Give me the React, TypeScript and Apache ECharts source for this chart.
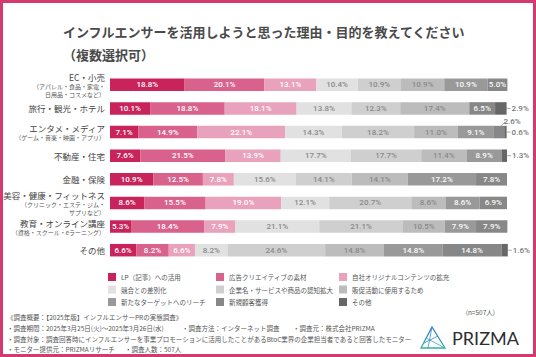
import React, { useEffect, useRef } from 'react';
import * as echarts from 'echarts';

const categories = ['EC・小売', '旅行・観光・ホテル', 'エンタメ・メディア', '不動産・住宅', '金融・保険', '美容・健康・フィットネス', '教育・オンライン講座', 'その他'];
const categorySubs: string[][] = [
  ['（アパレル・食品・家電・', '日用品・コスメなど）'],
  [],
  ['（ゲーム・音楽・映画・アプリ）'],
  [],
  [],
  ['（クリニック・エステ・ジム・', 'サプリなど）'],
  ['（資格・スクール・eラーニング）'],
  [],
];
const seriesNames = ['LP（記事）への活用', '広告クリエイティブの素材', '自社オリジナルコンテンツの拡充', '競合との差別化', '企業名・サービスや商品の認知拡大', '販促活動に使用するため', '新たなターゲットへのリーチ', '新規顧客獲得', 'その他'];
const lpUse = [18.8, 10.1, 7.1, 7.6, 10.9, 8.6, 5.3, 6.6];
const adCreative = [20.1, 18.8, 14.9, 21.5, 12.5, 15.5, 18.4, 8.2];
const ownContent = [13.1, 18.1, 22.1, 13.9, 7.8, 19.0, 7.9, 6.6];
const differentiation = [10.4, 13.8, 14.3, 17.7, 15.6, 12.1, 21.1, 8.2];
const awareness = [10.9, 12.3, 18.2, 17.7, 14.1, 20.7, 21.1, 24.6];
const promotion = [10.9, 17.4, 11.0, 11.4, 14.1, 8.6, 10.5, 14.8];
const newTarget = [10.9, 0, 9.1, 8.9, 17.2, 8.6, 7.9, 14.8];
const newCustomer = [5.0, 6.5, 2.6, 0, 7.8, 6.9, 7.9, 14.8];
const others = [0, 2.9, 0.6, 1.3, 0, 0, 0, 1.6];
const seriesValues = [lpUse, adCreative, ownContent, differentiation, awareness, promotion, newTarget, newCustomer, others];

const titleLines = ['インフルエンサーを活用しようと思った理由・目的を教えてください', '（複数選択可）'];
const footerNote = '(n=507人)';
const footerLines = [
  { text: '《調査概要：【2025年版】インフルエンサーPRの実態調査》', col: 0, row: 0 },
  { text: '・調査期間：2025年3月25日(火)〜2025年3月26日(水)', col: 0, row: 1 },
  { text: '・調査方法：インターネット調査', col: 1, row: 1 },
  { text: '・調査元：株式会社PRIZMA', col: 2, row: 1 },
  { text: '・調査対象：調査回答時にインフルエンサーを事業プロモーションに活用したことがあるBtoC業界の企業担当者であると回答したモニター', col: 0, row: 2 },
  { text: '・モニター提供元：PRIZMAリサーチ', col: 0, row: 3 },
  { text: '・調査人数：507人', col: 3, row: 3 },
];

const COLORS = ['#c8235a', '#d9628c', '#e9a2bb', '#e1e1e1', '#cfcfcf', '#bcbcbc', '#999999', '#878787', '#676767'];
const LABEL_COLORS = ['#fff', '#fff', '#fff', '#8a8a8a', '#8a8a8a', '#8a8a8a', '#fafafa', '#fafafa', '#fafafa'];
const CJK = "'Noto Sans CJK JP', 'Noto Sans', sans-serif";
const NUMF = "'Liberation Sans Narrow', Roboto, sans-serif";
const colX = [7, 182, 293, 125];
const rowY = [317, 327.5, 338.5, 349];

export default function App() {
  const ref = useRef<HTMLDivElement>(null);
  useEffect(() => {
    const chart = echarts.init(ref.current!, null, { renderer: 'svg' });
    const gridLeft = 105;
    const gridRight = 29;

    const series = seriesNames.map((name, si) => ({
      name,
      type: 'bar',
      stack: 'total',
      barWidth: 12.5,
      clip: false,
      itemStyle: { color: COLORS[si] },
      emphasis: { disabled: true },
      label: {
        show: true,
        position: 'inside',
        fontFamily: NUMF,
        fontSize: 8,
        fontWeight: 500,
        color: LABEL_COLORS[si],
        formatter: (p: any) => (p.value > 0 ? Number(p.value).toFixed(1) + '%' : ''),
      },
      data: seriesValues[si].map((v) => {
        if (v > 0 && v < 2) {
          return { value: v, label: { position: 'right', distance: 5, color: '#777' } };
        }
        if (v > 0 && v < 3) {
          if (si === seriesNames.length - 1) {
            return { value: v, label: { position: 'right', distance: 5, color: '#777' } };
          }
          return { value: v, label: { position: 'top', distance: 0, offset: [13, 0], color: '#777' } };
        }
        return v;
      }),
    }));

    const graphics: any[] = [
      {
        id: 'frame', type: 'rect', silent: true,
        shape: { x: 1.5, y: 1.5, width: 533, height: 354 },
        style: { fill: 'none', stroke: '#d43a6f', lineWidth: 3 },
      },
      ...footerLines.map((f, i) => ({
        id: 'foot' + i, type: 'text', x: colX[f.col], y: rowY[f.row],
        style: { text: f.text, fontSize: 6.5, fontFamily: CJK, fill: '#555', textVerticalAlign: 'middle' },
      })),
      {
        id: 'nnote', type: 'text', x: 495, y: 312,
        style: { text: footerNote, fontSize: 6.5, fontFamily: CJK, fill: '#555', textAlign: 'right', textVerticalAlign: 'middle' },
      },
      {
        id: 'logoTri', type: 'polygon',
        shape: { points: [[432, 327], [445, 348], [421, 348]] },
        style: {
          fill: 'none', lineWidth: 1.3,
          stroke: new echarts.graphic.LinearGradient(0, 0, 0, 1, [
            { offset: 0, color: '#2f6fd6' }, { offset: 1, color: '#33b59a' },
          ]),
        },
      },
      {
        id: 'logoRay1', type: 'polyline',
        shape: { points: [[432, 327], [428, 348]] },
        style: { stroke: '#3a8fc8', lineWidth: 0.8 },
      },
      {
        id: 'logoRay2', type: 'polyline',
        shape: { points: [[426, 338], [445, 348]] },
        style: { stroke: '#35a7b0', lineWidth: 0.8 },
      },
      {
        id: 'logoRay3', type: 'polyline',
        shape: { points: [[424, 343], [438, 336]] },
        style: { stroke: '#2f80d0', lineWidth: 0.8 },
      },
      {
        id: 'logoText', type: 'text', x: 452, y: 338,
        style: { text: 'PRIZMA', fontSize: 18, fontFamily: 'Lato, Roboto, sans-serif', fontWeight: 'normal', fill: '#2e2e2e', textVerticalAlign: 'middle' },
      },
    ];

    const legendCols = [[0, 3, 6], [1, 4, 7], [2, 5, 8]];
    const legendLeft = [103, 211, 334];

    const option: any = {
      animation: false,
      backgroundColor: '#fff',
      title: {
        text: titleLines.join('\n'),
        left: 58,
        top: 15,
        textStyle: { fontSize: 13, fontWeight: 'bold', color: '#4a4a4a', fontFamily: CJK, lineHeight: 23 },
      },
      legend: legendCols.map((col, li) => ({
        orient: 'vertical',
        left: legendLeft[li],
        top: 268,
        itemWidth: 8,
        itemHeight: 8,
        itemGap: 4.5,
        icon: 'rect',
        selectedMode: false,
        data: col.map((i) => seriesNames[i]),
        textStyle: { fontSize: 6.5, color: '#555', fontFamily: CJK },
      })),
      grid: { left: gridLeft, right: gridRight, top: 73, bottom: 95, containLabel: false },
      xAxis: { type: 'value', min: 0, max: 100, show: false },
      yAxis: {
        type: 'category',
        inverse: true,
        data: categories,
        axisLine: { show: false },
        axisTick: { show: false },
        axisLabel: {
          margin: 5,
          align: 'right',
          formatter: (v: string, idx: number) => {
            const subs = categorySubs[idx] || [];
            return ['{m|' + v + '}', ...subs.map((s) => '{s|' + s + '}')].join('\n');
          },
          rich: {
            m: { fontSize: 8.5, color: '#444', fontFamily: CJK, lineHeight: 11.5, align: 'right' },
            s: { fontSize: 6, color: '#555', fontFamily: CJK, lineHeight: 8, align: 'right' },
          },
        },
      },
      series,
      graphic: { elements: graphics },
    };
    chart.setOption(option);

    const lines: any[] = [];
    seriesValues.forEach((arr, si) => {
      arr.forEach((v, ci) => {
        if (v > 0 && v < 3) {
          let before = 0;
          for (let k = 0; k < si; k++) before += seriesValues[k][ci];
          const end = chart.convertToPixel({ gridIndex: 0 }, [before + v, ci]) as number[];
          const start = chart.convertToPixel({ gridIndex: 0 }, [before, ci]) as number[];
          const isRight = si === seriesNames.length - 1 || v < 2;
          if (isRight) {
            lines.push({
              id: 'll' + si + '_' + ci, type: 'line',
              shape: { x1: end[0], y1: end[1], x2: end[0] + 4, y2: end[1] },
              style: { stroke: '#888', lineWidth: 0.7 },
            });
          } else {
            const cx = (start[0] + end[0]) / 2;
            lines.push({
              id: 'll' + si + '_' + ci, type: 'polyline',
              shape: { points: [[cx + 2, end[1] - 6], [cx + 6, end[1] - 10]] },
              style: { stroke: '#888', lineWidth: 0.7, fill: 'none' },
            });
          }
        }
      });
    });
    chart.setOption({ graphic: { elements: lines } });

    return () => chart.dispose();
  }, []);
  return <div ref={ref} style={{ position: 'fixed', left: 0, top: 0, width: 536, height: 357, background: '#fff' }} />;
}
